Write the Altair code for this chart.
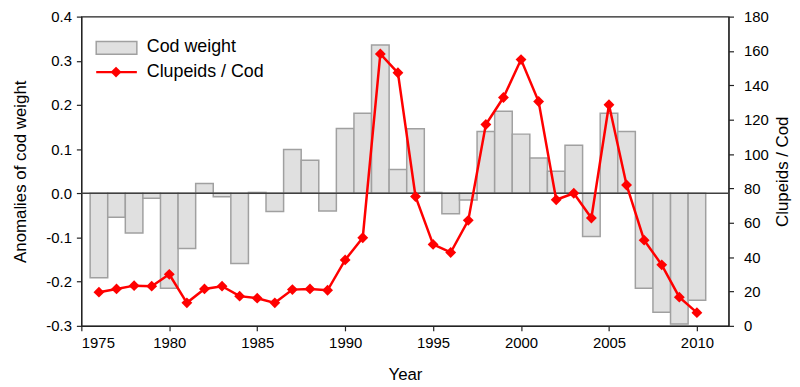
import altair as alt
import pandas as pd

years = list(range(1976, 2011))
cod_weight = [-0.191, -0.054, -0.090, -0.011, -0.215, -0.125, 0.022, -0.008, -0.159, 0.002,
              -0.041, 0.099, 0.075, -0.040, 0.147, 0.181, 0.336, 0.054, 0.146, 0.002,
              -0.046, -0.015, 0.140, 0.186, 0.134, 0.080, 0.050, 0.109, -0.098, 0.181,
              0.140, -0.215, -0.269, -0.296, -0.242]
clupeids_cod = [19.6, 21.5, 23.4, 23.1, 30.0, 13.4, 21.5, 23.1, 17.3, 16.1,
                13.4, 21.1, 21.5, 20.7, 38.4, 51.3, 158.3, 147.3, 75.3, 47.4,
                42.7, 61.4, 117.2, 132.9, 155.0, 130.6, 73.4, 77.2, 62.8, 128.7,
                82.0, 49.9, 35.5, 16.7, 7.7]

FONT = "Liberation Sans"
df = pd.DataFrame({"year": years, "cod": cod_weight, "ratio": clupeids_cod})

xs = alt.Scale(domain=[1975, 2011.8], nice=False, zero=False)
ys = alt.Scale(domain=[-0.3, 0.4], nice=False, zero=False)
rs = alt.Scale(domain=[0, 180], nice=False, zero=False)

x_axis = alt.Axis(title="Year", values=list(range(1975, 2011, 5)), format="d",
                  grid=False, tickSize=5, labelPadding=5, titlePadding=16)

bars = alt.Chart(df).transform_calculate(
    x0="datum.year - 0.5", x1="datum.year + 0.5"
).mark_bar(fill="#e0e0e0", stroke="#a0a0a0", strokeWidth=1.5).encode(
    x=alt.X("x0:Q", scale=xs, axis=x_axis),
    x2="x1:Q",
    y=alt.Y("cod:Q", scale=ys, axis=alt.Axis(
        title="Anomalies of cod weight", orient="left",
        values=[-0.3, -0.2, -0.1, 0.0, 0.1, 0.2, 0.3, 0.4],
        labelExpr="replace(format(datum.value, '.1f'), '\u2212', '-')",
        grid=False, tickSize=5, labelPadding=5, titlePadding=16)),
    y2=alt.datum(0),
)

zero = alt.Chart(pd.DataFrame({"v": [0]})).mark_rule(color="#404040", strokeWidth=1.5).encode(
    y=alt.Y("v:Q", scale=ys, axis=None)
)

line = alt.Chart(df).mark_line(
    color="#ff0000", strokeWidth=2.5,
    point=alt.OverlayMarkDef(shape="diamond", size=120, filled=True, color="#ff0000")
).encode(
    x=alt.X("year:Q", scale=xs),
    y=alt.Y("ratio:Q", scale=rs, axis=alt.Axis(
        title="Clupeids / Cod", orient="right", titleAngle=270, titleBaseline="top",
        values=list(range(0, 181, 20)), grid=False, tickSize=5,
        labelPadding=10, titlePadding=6)),
)

one = pd.DataFrame({"a": [0]})
leg_rect = alt.Chart(one).mark_rect(fill="#e0e0e0", stroke="#a0a0a0", strokeWidth=1.5).encode(
    x=alt.value(15), x2=alt.value(56), y=alt.value(25), y2=alt.value(38))
leg_t1 = alt.Chart(one).mark_text(align="left", baseline="middle", fontSize=18, font=FONT).encode(
    x=alt.value(66), y=alt.value(31), text=alt.value("Cod weight"))
leg_rule = alt.Chart(one).mark_rule(color="#ff0000", strokeWidth=2.5).encode(
    x=alt.value(15), x2=alt.value(56), y=alt.value(56))
leg_pt = alt.Chart(one).mark_point(shape="diamond", size=120, filled=True, color="#ff0000", opacity=1).encode(
    x=alt.value(35), y=alt.value(56))
leg_t2 = alt.Chart(one).mark_text(align="left", baseline="middle", fontSize=18, font=FONT).encode(
    x=alt.value(66), y=alt.value(56), text=alt.value("Clupeids / Cod"))

chart = alt.layer(bars, zero, line, leg_rect, leg_t1, leg_rule, leg_pt, leg_t2).resolve_scale(
    y="independent"
).properties(
    width=653, height=312,
    autosize=alt.AutoSizeParams(type="none"),
    padding={"left": 74, "top": 7, "right": 64, "bottom": 60},
).configure_view(
    stroke="#222222", strokeWidth=1.2
).configure_axis(
    labelFont=FONT, titleFont=FONT, labelFontSize=15, titleFontSize=17,
    labelColor="black", titleColor="black", titleFontWeight="normal",
    domainColor="#222222", tickColor="#222222", domainWidth=1.2, tickWidth=1.2,
)

chart.save("out.html", embed_options={"renderer": "svg", "actions": False})
